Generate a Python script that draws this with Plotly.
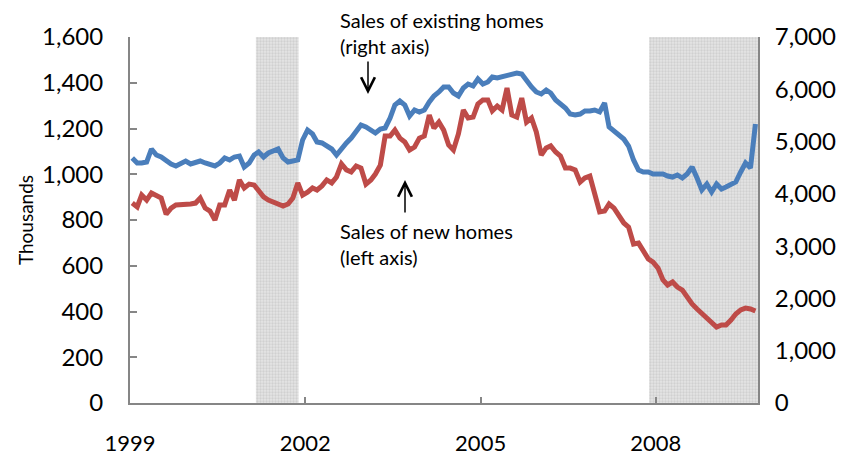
import pandas as pd
import plotly.graph_objects as go

# Monthly observations, Jan 1999 - Sep 2009
months = pd.date_range("1999-01-01", periods=129, freq="MS") + pd.Timedelta(days=14)

new_homes = [
    874, 857, 909, 887, 918, 909, 896, 825, 852, 866, 866, 866,
    870, 874, 896, 852, 839, 800, 866, 866, 931, 887, 975, 940,
    957, 953, 927, 901, 887, 879, 874, 861, 870, 896, 962, 909,
    922, 940, 931, 949, 975, 962, 988, 1045, 1019, 1010, 1036, 1027,
    957, 975, 1001, 1040, 1167, 1167, 1193, 1158, 1141, 1106, 1119, 1158,
    1167, 1259, 1202, 1228, 1193, 1128, 1106, 1176, 1281, 1246, 1250, 1307,
    1325, 1325, 1277, 1298, 1281, 1377, 1259, 1250, 1333, 1228, 1246, 1185,
    1084, 1115, 1124, 1097, 1080, 1027, 1027, 1019, 966, 984, 992, 909,
    835, 839, 870, 852, 818, 787, 769, 695, 699, 669, 630, 616,
    590, 538, 516, 529, 507, 494, 459, 433, 411, 393, 372, 354,
    332, 341, 341, 363, 389, 407, 415, 411, 402,
]

existing_homes = [
    4686, 4590, 4590, 4609, 4858, 4743, 4705, 4628, 4571, 4533, 4571, 4628,
    4571, 4609, 4628, 4590, 4552, 4533, 4590, 4686, 4648, 4705, 4724, 4514,
    4590, 4743, 4801, 4705, 4782, 4820, 4858, 4686, 4609, 4628, 4648, 5030,
    5221, 5145, 4992, 4973, 4915, 4858, 4743, 4877, 4973, 5068, 5202, 5317,
    5279, 5221, 5164, 5241, 5260, 5451, 5700, 5776, 5700, 5489, 5604, 5566,
    5604, 5757, 5872, 5948, 6044, 6044, 5929, 5872, 6025, 6101, 6063, 6197,
    6101, 6139, 6235, 6216, 6235, 6254, 6292, 6312, 6292, 6159, 6044, 5948,
    5910, 5986, 5929, 5795, 5719, 5642, 5527, 5508, 5527, 5585, 5585, 5604,
    5566, 5738, 5279, 5202, 5126, 5049, 4915, 4648, 4456, 4418, 4418, 4380,
    4380, 4380, 4342, 4322, 4361, 4303, 4380, 4514, 4303, 4074, 4189, 4036,
    4189, 4093, 4131, 4169, 4227, 4418, 4590, 4495, 5336,
]

recession_starts = ["2001-02-26", "2007-11-20"]
recession_ends = ["2001-11-20", "2009-10-01"]

x_tick_vals = ["1999-01-01", "2002-01-01", "2005-01-01", "2008-01-01"]
x_tick_text = ["1999", "2002", "2005", "2008"]

FONT = "Lato"
AXIS_GRAY = "#868686"
BLUE = "#4A7EBB"
RED = "#BE4B48"

fig = go.Figure()

# Recession shading as patterned bars spanning the full left-axis range
rs = pd.to_datetime(recession_starts)
re_ = pd.to_datetime(recession_ends)
mids = [s + (e - s) / 2 for s, e in zip(rs, re_)]
widths = [(e - s).total_seconds() * 1000 for s, e in zip(rs, re_)]
fig.add_trace(go.Bar(
    x=mids, y=[1600] * len(mids), width=widths, yaxis="y",
    marker=dict(color="#e4e4e4", line=dict(width=0),
                pattern=dict(shape=".", fgcolor="#bcbcbc", bgcolor="#e4e4e4",
                             size=3, solidity=0.45)),
    hoverinfo="skip", showlegend=False,
))

fig.add_trace(go.Scatter(
    x=months, y=new_homes, mode="lines", name="Sales of new homes",
    line=dict(color=RED, width=5), yaxis="y",
))
fig.add_trace(go.Scatter(
    x=months, y=existing_homes, mode="lines", name="Sales of existing homes",
    line=dict(color=BLUE, width=5), yaxis="y2",
))

fig.add_annotation(
    xref="paper", yref="paper", x=(338 - 130) / 628, y=(403 - 6) / 366,
    xanchor="left", yanchor="top",
    text="Sales of existing homes<br>(right axis)", showarrow=False, align="left",
    font=dict(family=FONT, size=20, color="black"),
)
fig.add_annotation(
    xref="paper", yref="paper", x=(368 - 130) / 628, y=(403 - 94) / 366,
    ax=0, ay=-34, text="", showarrow=True, arrowhead=5, arrowsize=1.8,
    arrowwidth=1.5, arrowcolor="black",
)
fig.add_annotation(
    xref="paper", yref="paper", x=(338 - 130) / 628, y=(403 - 217) / 366,
    xanchor="left", yanchor="top",
    text="Sales of new homes<br>(left axis)", showarrow=False, align="left",
    font=dict(family=FONT, size=20, color="black"),
)
fig.add_annotation(
    xref="paper", yref="paper", x=(405 - 130) / 628, y=(403 - 180) / 366,
    ax=0, ay=34, text="", showarrow=True, arrowhead=5, arrowsize=1.8,
    arrowwidth=1.5, arrowcolor="black",
)

fig.update_layout(
    width=865, height=457,
    margin=dict(l=130, r=107, t=37, b=54, autoexpand=False),
    paper_bgcolor="white", plot_bgcolor="white",
    showlegend=False,
    font=dict(family=FONT, size=21, color="black"),
    xaxis=dict(
        type="date", range=["1999-01-01", "2009-10-01"],
        tickvals=x_tick_vals, ticktext=x_tick_text,
        showgrid=False, zeroline=False, automargin=False,
        showline=True, linecolor=AXIS_GRAY, linewidth=2,
        ticks="inside", ticklen=6, tickwidth=1.5, tickcolor=AXIS_GRAY,
        ticklabelstandoff=20,
        tickfont=dict(family=FONT, size=22, color="black"),
    ),
    yaxis=dict(
        range=[0, 1600], dtick=200, tickformat=",",
        showgrid=False, zeroline=False, automargin=False,
        showline=True, linecolor=AXIS_GRAY, linewidth=2,
        ticks="inside", ticklen=7, tickwidth=1.5, tickcolor=AXIS_GRAY,
        ticklabelstandoff=20,
        title=dict(text="Thousands", font=dict(family=FONT, size=19), standoff=3),
        tickfont=dict(family=FONT, size=24, color="black"),
    ),
    yaxis2=dict(
        range=[0, 7000], dtick=1000, tickformat=",",
        overlaying="y", side="right",
        showgrid=False, zeroline=False, automargin=False,
        showline=True, linecolor=AXIS_GRAY, linewidth=2,
        ticks="", ticklabelstandoff=10,
        tickfont=dict(family=FONT, size=24, color="black"),
    ),
)

fig.write_html(
    "out.html",
    config={"displayModeBar": False},
    post_script="document.body.style.margin='0';document.body.style.padding='0';",
)
